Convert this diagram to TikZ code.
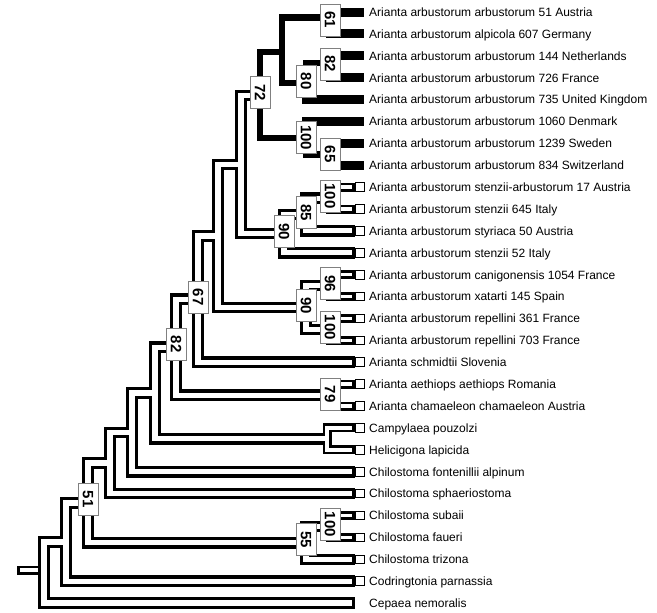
\documentclass[tikz,border=0pt]{standalone}
\usepackage{fontspec}
\setmainfont{Liberation Sans}
\begin{document}
\begin{tikzpicture}[x=1pt,y=-1pt,
  tubeout/.style={line width=11.6pt, line join=miter, line cap=butt, draw=black},
  tubein/.style={line width=5.1pt, line join=miter, line cap=butt, draw=white},
  leafout/.style={line width=9pt, line join=miter, line cap=butt, draw=black},
  leafin/.style={line width=3.4pt, line join=miter, line cap=butt, draw=white},
  blkin/.style={line width=6.5pt, line join=miter, line cap=butt, draw=black},
  blkleaf/.style={line width=9pt, line join=miter, line cap=butt, draw=black},
  bsbox/.style={draw=black!50, line width=0.9pt, fill=white, rotate=-90, minimum width=32pt, minimum height=20pt, inner sep=0pt, font=\fontsize{15}{15}\selectfont\bfseries},
  sqbox/.style={draw=black, line width=0.9pt, fill=white, minimum size=8.6pt, inner sep=0pt, anchor=west},
  lab/.style={anchor=west, font=\fontsize{12}{14}\selectfont, inner sep=0pt, text height=8.6pt, text depth=0pt}
]
\useasboundingbox (0,0) rectangle (657,613);
% leaf tips
\foreach \i/\y in {1/12.0,2/33.9,3/55.8,4/77.7,5/99.6,6/121.4,7/143.3,8/165.2,9/187.1,10/209.0,11/230.9,12/252.8,13/274.7,14/296.6,15/318.5,16/340.3,17/362.2,18/384.1,19/406.0,20/427.9,21/449.8,22/471.7,23/493.6,24/515.5,25/537.4,26/559.3,27/581.1,28/603.0}
  \coordinate (t\i) at (355,\y);
% internal nodes
\coordinate (A) at (330,17.5);
\coordinate (B) at (330,63);
\coordinate (C) at (306,83.2);
\coordinate (D) at (282,52);
\coordinate (F) at (330,154.25);
\coordinate (E) at (306,137.8);
\coordinate (N72) at (260,95.45);
\coordinate (P) at (330,198.05);
\coordinate (Q) at (306,214.5);
\coordinate (N90a) at (284,233.6);
\coordinate (H) at (241,164.5);
\coordinate (N96) at (330,285.65);
\coordinate (N100c) at (330,329.4);
\coordinate (N90b) at (306,307.5);
\coordinate (I) at (218,236);
\coordinate (N67) at (198,299.1);
\coordinate (N79) at (330,395.05);
\coordinate (N82) at (176,347.1);
\coordinate (Ch) at (327,438.85);
\coordinate (L) at (155,393);
\coordinate (K) at (132,432.35);
\coordinate (J) at (110,463);
\coordinate (N100d) at (330,526.45);
\coordinate (N55) at (306,542.9);
\coordinate (N51) at (88,503);
\coordinate (M) at (66,542);
\coordinate (R) at (44,572.5);
% outline pass
\foreach \p/\c in {R/M,M/N51,N51/J,J/K,K/L,L/N82,N82/N67,N67/I,I/H,H/N72,H/N90a,N90a/Q,Q/P,I/N90b,N90b/N96,N90b/N100c,N82/N79,L/Ch,N51/N55,N55/N100d}
  \draw[tubeout] (\p) |- (\c);
\foreach \p/\i in {R/28,M/27,J/23,K/22,N67/17,N90a/12,Q/11,N55/26}
  \draw[tubeout] (\p) |- (t\i);
\foreach \p/\i in {Ch/20,Ch/21,N79/18,N79/19,N96/13,N96/14,N100c/15,N100c/16,P/9,P/10,N100d/24,N100d/25}
  \draw[leafout] (\p) |- (t\i);
% interior pass
\foreach \p/\c in {R/M,M/N51,N51/J,J/K,K/L,L/N82,N82/N67,N67/I,I/H,H/N72,H/N90a,N90a/Q,Q/P,I/N90b,N90b/N96,N90b/N100c,N82/N79,L/Ch,N51/N55,N55/N100d}
  \draw[tubein] (\p) |- (\c);
\foreach \p/\i in {R/28,M/27,J/23,K/22,N67/17,N90a/12,Q/11,N55/26}
  \draw[tubein] (\p) |- ([xshift=-3pt]t\i);
\foreach \p/\i in {Ch/20,Ch/21,N79/18,N79/19,N96/13,N96/14,N100c/15,N100c/16,P/9,P/10,N100d/24,N100d/25}
  \draw[leafin] (\p) |- ([xshift=-2.7pt]t\i);
% black clade
\foreach \p/\c in {N72/D,N72/E,D/A,D/C,C/B,E/F}
  \draw[blkin] (\p) |- (\c);
\foreach \p/\i in {A/1,A/2,B/3,B/4,C/5,E/6,F/7,F/8}
  \draw[blkleaf] (\p) |- ([xshift=9pt]t\i);
% root stub
\fill[black] (17,565.5) rectangle (40,574.5);
\fill[white] (19.8,568.3) rectangle (38.2,571.7);
% leaf squares
\foreach \i in {9,...,27}
  \node[sqbox] (s\i) at (t\i) {};
% bootstrap boxes
\node[bsbox] (b61) at ([yshift=-2.5pt]A) {61};
\node[bsbox] (b82a) at ([yshift=-1pt]B) {82};
\node[bsbox] (b80) at ([yshift=2pt]C) {80};
\node[bsbox] (b72) at ([yshift=3pt]N72) {72};
\node[bsbox] (b100a) at ([yshift=0pt]E) {100};
\node[bsbox] (b65) at ([yshift=0pt]F) {65};
\node[bsbox] (b100b) at ([yshift=2pt]P) {100};
\node[bsbox] (b85) at ([yshift=2pt]Q) {85};
\node[bsbox] (b90a) at ([yshift=2pt]N90a) {90};
\node[bsbox] (b96) at ([yshift=2pt]N96) {96};
\node[bsbox] (b100c) at ([yshift=2pt]N100c) {100};
\node[bsbox] (b90b) at ([yshift=2pt]N90b) {90};
\node[bsbox] (b67) at ([yshift=2pt]N67) {67};
\node[bsbox] (b82b) at ([yshift=3pt]N82) {82};
\node[bsbox] (b79) at ([yshift=1pt]N79) {79};
\node[bsbox] (b51) at ([yshift=4pt]N51) {51};
\node[bsbox] (b100d) at ([yshift=2pt]N100d) {100};
\node[bsbox] (b55) at ([yshift=3pt]N55) {55};
% labels
\foreach \i/\txt in {
  1/Arianta arbustorum arbustorum 51 Austria,
  2/Arianta arbustorum alpicola 607 Germany,
  3/Arianta arbustorum arbustorum 144 Netherlands,
  4/Arianta arbustorum arbustorum 726 France,
  5/Arianta arbustorum arbustorum 735 United Kingdom,
  6/Arianta arbustorum arbustorum 1060 Denmark,
  7/Arianta arbustorum arbustorum 1239 Sweden,
  8/Arianta arbustorum arbustorum 834 Switzerland,
  9/Arianta arbustorum stenzii-arbustorum 17 Austria,
  10/Arianta arbustorum stenzii 645 Italy,
  11/Arianta arbustorum styriaca 50 Austria,
  12/Arianta arbustorum stenzii 52 Italy,
  13/Arianta arbustorum canigonensis 1054 France,
  14/Arianta arbustorum xatarti 145 Spain,
  15/Arianta arbustorum repellini 361 France,
  16/Arianta arbustorum repellini 703 France,
  17/Arianta schmidtii Slovenia,
  18/Arianta aethiops aethiops Romania,
  19/Arianta chamaeleon chamaeleon Austria,
  20/Campylaea pouzolzi,
  21/Helicigona lapicida,
  22/Chilostoma fontenillii alpinum,
  23/Chilostoma sphaeriostoma,
  24/Chilostoma subaii,
  25/Chilostoma faueri,
  26/Chilostoma trizona,
  27/Codringtonia parnassia,
  28/Cepaea nemoralis}
  \node[lab] (n\i) at ([xshift=14pt]t\i) {\txt};
\end{tikzpicture}
\end{document}
